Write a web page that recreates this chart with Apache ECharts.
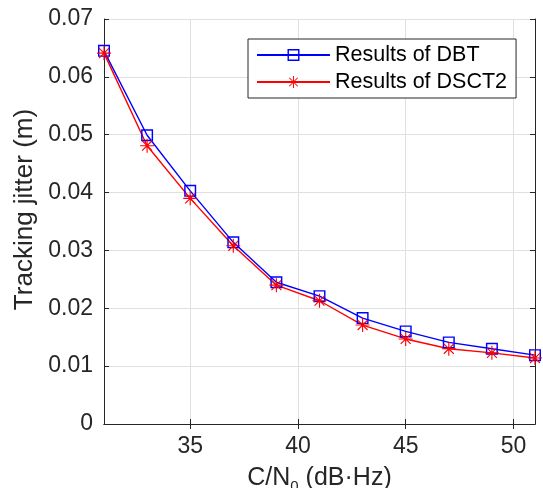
<!DOCTYPE html>
<html>
<head>
<meta charset="utf-8">
<script src="https://cdn.jsdelivr.net/npm/echarts@6/dist/echarts.min.js"></script>
<style>
html,body{margin:0;padding:0;background:#fff;}
#chart{width:543px;height:488px;}
</style>
</head>
<body>
<div id="chart"></div>
<script>
var cn0 = [31, 33, 35, 37, 39, 41, 43, 45, 47, 49, 51];
var dbt = [0.0645, 0.0499, 0.0403, 0.0314, 0.0245, 0.0221, 0.0183, 0.0160, 0.0141, 0.0130, 0.0119];
var dsct2 = [0.0641, 0.0481, 0.0390, 0.0308, 0.0240, 0.0213, 0.0171, 0.0147, 0.0130, 0.0123, 0.0114];
var xTicks = [35, 40, 45, 50];
var seriesNames = ['Results of DBT', 'Results of DSCT2'];
var xName = 'C/N{sub|0} (dB·Hz)';
var yName = 'Tracking jitter (m)';

var FONT = '"Liberation Sans", Arial, sans-serif';
var AX = '#262626';
var GRID = '#e0e0e0';

var squarePath = 'path://M0 0H20V20H0Z M2.4 2.4V17.6H17.6V2.4Z';
var starPath = 'path://M9.2 0H10.8V20H9.2Z M0 9.2H20V10.8H0Z M3.5 2.36L17.64 16.5L16.5 17.64L2.36 3.5Z M17.64 3.5L3.5 17.64L2.36 16.5L16.5 2.36Z';

function pairs(xs, ys) { return xs.map(function (x, i) { return [x, ys[i]]; }); }

var chart = echarts.init(document.getElementById('chart'), null, {renderer: 'canvas'});
chart.setOption({
  animation: false,
  backgroundColor: '#fff',
  textStyle: {fontFamily: FONT},
  grid: {left: 104, right: 8, top: 19, bottom: 64, containLabel: false, outerBoundsMode: 'none'},
  legend: {
    orient: 'vertical',
    left: 248, top: 39,
    padding: [5, 9, 5, 8],
    itemGap: 5,
    itemWidth: 73, itemHeight: 15,
    backgroundColor: '#fff',
    borderColor: AX, borderWidth: 1,
    textStyle: {fontFamily: FONT, fontSize: 21.5, color: '#000'},
    data: seriesNames
  },
  xAxis: [{
    type: 'value', min: 31, max: 51,
    name: xName, nameLocation: 'middle', nameGap: 39,
    nameTextStyle: {fontFamily: FONT, fontSize: 25, color: AX,
      rich: {sub: {fontFamily: FONT, fontSize: 15, color: AX, padding: [16, 0, 0, 0]}}},
    axisLine: {show: true, lineStyle: {color: AX, width: 1}},
    axisTick: {show: true, inside: true, length: 5, customValues: xTicks, lineStyle: {color: AX}},
    axisLabel: {customValues: xTicks, fontFamily: FONT, fontSize: 23, color: AX, margin: 11},
    splitLine: {show: true, lineStyle: {color: GRID, width: 1}}
  }, {
    type: 'value', min: 31, max: 51, position: 'top',
    axisLine: {show: true, lineStyle: {color: AX, width: 1}},
    axisTick: {show: true, inside: true, length: 5, customValues: xTicks, lineStyle: {color: AX}},
    axisLabel: {show: false, customValues: xTicks},
    splitLine: {show: false}
  }],
  yAxis: [{
    type: 'value', min: 0, max: 0.07, interval: 0.01,
    name: yName, nameLocation: 'middle', nameGap: 57,
    nameTextStyle: {fontFamily: FONT, fontSize: 26, color: AX, padding: [0, 0, 0, 24]},
    axisLine: {show: true, lineStyle: {color: AX, width: 1}},
    axisTick: {show: true, inside: true, length: 5, lineStyle: {color: AX}},
    axisLabel: {fontFamily: FONT, fontSize: 23, color: AX, margin: 11},
    splitLine: {show: true, lineStyle: {color: GRID, width: 1}}
  }, {
    type: 'value', min: 0, max: 0.07, interval: 0.01, position: 'right',
    axisLine: {show: true, lineStyle: {color: AX, width: 1}},
    axisTick: {show: true, inside: true, length: 5, lineStyle: {color: AX}},
    axisLabel: {show: false},
    splitLine: {show: false}
  }],
  series: [{
    name: seriesNames[0], type: 'line',
    data: pairs(cn0, dbt),
    symbol: squarePath, symbolSize: 12, showAllSymbol: true,
    lineStyle: {color: '#0000ff', width: 1.4},
    itemStyle: {color: '#0000ff', borderWidth: 0},
    emphasis: {disabled: true},
    clip: false
  }, {
    name: seriesNames[1], type: 'line',
    data: pairs(cn0, dsct2),
    symbol: starPath, symbolSize: 14, showAllSymbol: true,
    lineStyle: {color: '#ff0000', width: 1.4},
    itemStyle: {color: '#ff0000', borderWidth: 0},
    emphasis: {disabled: true},
    clip: false
  }]
});
</script>
</body>
</html>
